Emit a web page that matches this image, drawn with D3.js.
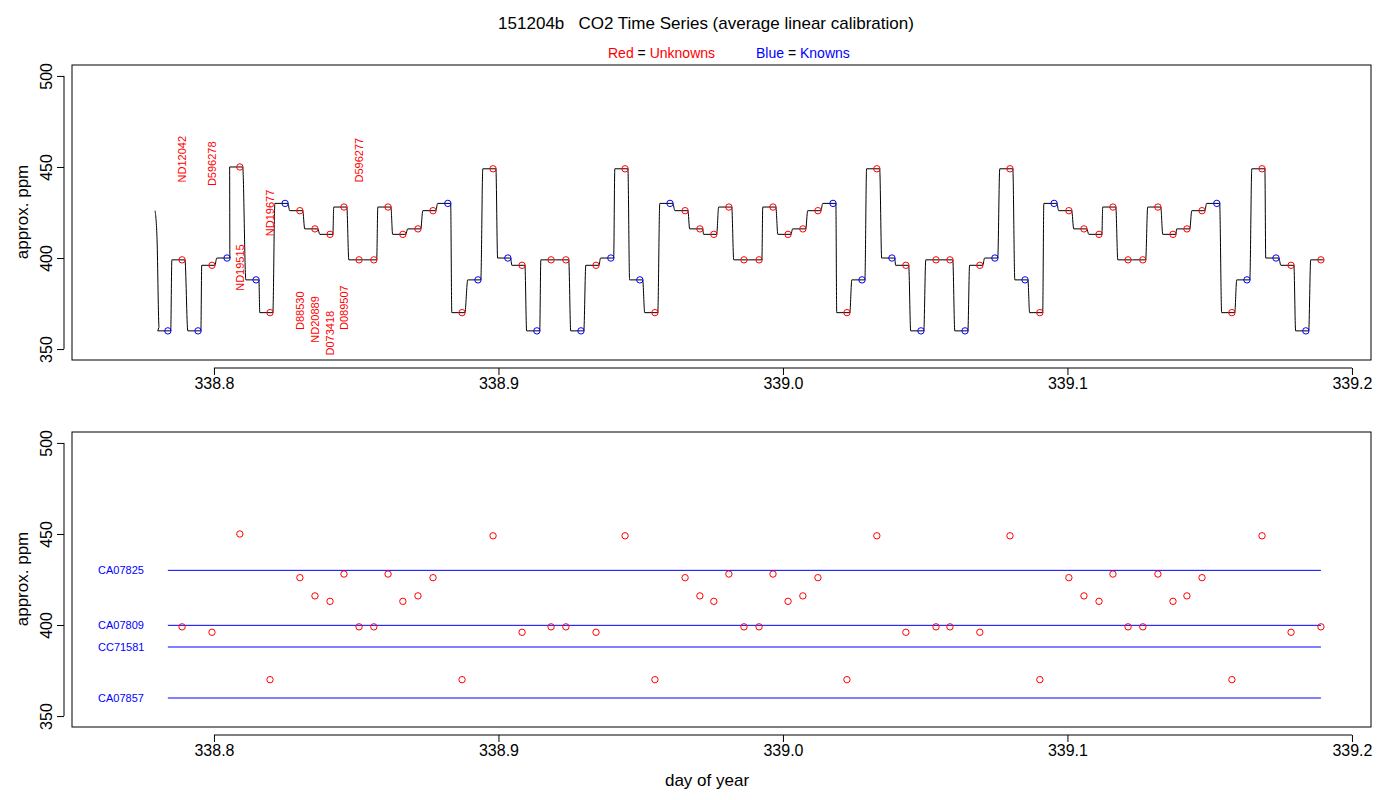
<!DOCTYPE html>
<html><head><meta charset="utf-8">
<script src="https://cdn.jsdelivr.net/npm/d3@7"></script>
<style>body{margin:0;background:#fff}text{font-family:"Liberation Sans",Arial,sans-serif}</style>
</head><body>
<script>
// sample end times (day of year), approx ppm, type (K = known, U = unknown)
const days = [338.7838,338.7888,338.7944,338.7993,338.8046,338.8091,338.8148,338.8197,338.8250,338.8302,
  338.8355,338.8408,338.8457,338.8510,338.8562,338.8612,338.8664,338.8717,338.8770,338.8822,
  338.8872,338.8928,338.8981,338.9033,338.9083,338.9135,338.9185,338.9237,338.9290,338.9343,
  338.9395,338.9445,338.9497,338.9550,338.9603,338.9656,338.9708,338.9757,338.9810,338.9863,
  338.9916,338.9965,339.0018,339.0070,339.0123,339.0176,339.0225,339.0278,339.0330,339.0383,
  339.0432,339.0485,339.0538,339.0587,339.0640,339.0692,339.0745,339.0798,339.0851,339.0903,
  339.0953,339.1005,339.1058,339.1111,339.1160,339.1213,339.1265,339.1318,339.1371,339.1420,
  339.1473,339.1525,339.1578,339.1631,339.1684,339.1733,339.1786,339.1838,339.1891];
const ppm = [360,399,360,396,400,450,388,370,430,426,
  416,413,428,399,399,428,413,416,426,430,
  370,388,449,400,396,360,399,399,360,396,
  400,449,388,370,430,426,416,413,428,399,
  399,428,413,416,426,430,370,388,449,400,
  396,360,399,399,360,396,400,449,388,370,
  430,426,416,413,428,399,399,428,413,416,
  426,430,370,388,449,400,396,360,399];
const kind = "KUKUKUKUKUUUUUUUUUUKUKUKUKUUKUKUKUKUUUUUUUUUUKUKUKUKUUKUKUKUKUUUUUUUUUUKUKUKUKU".split("");
// tank labels on the top panel: sample index, ppm at text end
const tagText = ["ND12042","D596278","ND19515","ND19677","D88530","ND20889","D073418","D089507","D596277"];
const tagIdx  = [1,3,5,7,9,10,11,12,13];
const tagPpm  = [441.5,439.5,382,412,360.5,353.5,346.5,360.5,441.5];
// standards
const stdName = ["CA07825","CA07809","CC71581","CA07857"];
const stdPpm  = [430.3,400.1,388.2,360.2];
const startDay = 338.7793, startPpm = 426;

const W = 1400, H = 800;
const svg = d3.select("body").append("svg").attr("width", W).attr("height", H);
const x = d3.scaleLinear().domain([338.7501, 339.2067]).range([72, 1371]);
const panels = [{top: 65}, {top: 432}];
const xTicks = [338.8, 338.9, 339.0, 339.1, 339.2];

svg.append("text").attr("x", 706).attr("y", 29).attr("text-anchor", "middle")
  .attr("font-size", 17).style("white-space", "pre")
  .text("151204b   CO2 Time Series (average linear calibration)");
const sub = svg.append("text").attr("y", 58).attr("font-size", 14).attr("x", 608);
sub.append("tspan").attr("fill", "red").text("Red");
sub.append("tspan").attr("fill", "#000").text(" = ");
sub.append("tspan").attr("fill", "red").text("Unknowns");
const sub2 = svg.append("text").attr("y", 58).attr("font-size", 14).attr("x", 756);
sub2.append("tspan").attr("fill", "blue").text("Blue");
sub2.append("tspan").attr("fill", "#000").text(" = ");
sub2.append("tspan").attr("fill", "blue").text("Knowns");

panels.forEach(p => {
  const y = d3.scaleLinear().domain([344, 506]).range([p.top + 295, p.top]);
  p.y = y;
  const g = svg.append("g");
  g.append("rect").attr("x", 72).attr("y", p.top).attr("width", 1299).attr("height", 295)
    .attr("fill", "none").attr("stroke", "#000");
  const xa = g.append("g").attr("transform", `translate(0,${p.top + 295 + 8})`)
    .call(d3.axisBottom(x).tickValues(xTicks).tickFormat(d3.format(".1f")).tickSize(7).tickSizeOuter(0));
  xa.select(".domain").attr("d", `M${x(338.8)},0H${x(339.2)}`);
  xa.selectAll("text").attr("font-size", 16).attr("y", 10).attr("dy", "0.71em");
  const ya = g.append("g").attr("transform", "translate(64,0)")
    .call(d3.axisLeft(y).tickValues([350, 400, 450, 500]).tickSize(7).tickSizeOuter(0));
  ya.select(".domain").attr("d", `M0,${y(350)}V${y(500)}`);
  ya.selectAll(".tick text").attr("font-size", 16).attr("text-anchor", "middle")
    .attr("dy", 0).attr("x", 0).attr("y", 0)
    .attr("transform", "translate(-12,0) rotate(-90)");
  [xa, ya].forEach(a => a.selectAll("path,line").attr("stroke", "#000"));
  g.append("text").attr("transform", `translate(28,${p.top + 147}) rotate(-90)`)
    .attr("text-anchor", "middle").attr("font-size", 17).text("approx. ppm");
});

// top panel: trace
const y1 = panels[0].y;
const pts = [[startDay, startPpm], [startDay + 0.0007, 410], [startDay + 0.0014, 362]];
days.forEach((d, i) => {
  pts.push([d - 0.0036, ppm[i]]);
  pts.push([d + 0.0010, ppm[i]]);
});
svg.append("path").datum(pts)
  .attr("d", d3.line().x(d => x(d[0])).y(d => y1(d[1])).curve(d3.curveMonotoneX))
  .attr("fill", "none").attr("stroke", "#000").attr("stroke-width", 1);
svg.append("g").selectAll("circle").data(days).join("circle")
  .attr("cx", d => x(d)).attr("cy", (d, i) => y1(ppm[i])).attr("r", 3.2)
  .attr("fill", "none").attr("stroke", (d, i) => kind[i] === "K" ? "blue" : "red");
svg.append("g").selectAll("text").data(tagText).join("text")
  .attr("transform", (d, i) => `translate(${x(days[tagIdx[i]]) + 4},${y1(tagPpm[i])}) rotate(-90)`)
  .attr("font-size", 11).attr("fill", "red").text(d => d);

// bottom panel: standards and unknowns
const y2 = panels[1].y;
svg.append("g").selectAll("line").data(stdPpm).join("line")
  .attr("x1", x(days[0])).attr("x2", x(days[days.length - 1]))
  .attr("y1", d => y2(d) + 0.5).attr("y2", d => y2(d) + 0.5).style("stroke", "blue");
svg.append("g").selectAll("text").data(stdName).join("text")
  .attr("x", 98).attr("y", (d, i) => y2(stdPpm[i]) + 4).attr("font-size", 11)
  .attr("fill", "blue").text(d => d);
const unk = days.map((d, i) => i).filter(i => kind[i] === "U");
svg.append("g").selectAll("circle").data(unk).join("circle")
  .attr("cx", i => x(days[i])).attr("cy", i => y2(ppm[i])).attr("r", 3.2)
  .attr("fill", "none").attr("stroke", "red");

svg.append("text").attr("x", 707).attr("y", 786).attr("text-anchor", "middle")
  .attr("font-size", 17).text("day of year");
</script>
</body></html>
